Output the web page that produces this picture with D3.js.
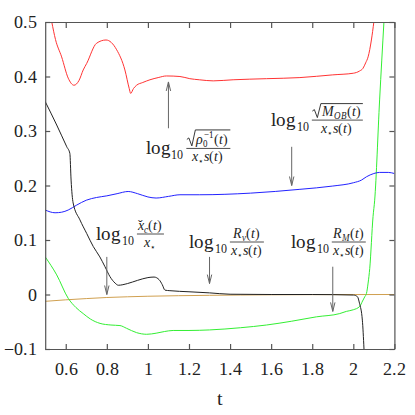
<!DOCTYPE html>
<html>
<head>
<meta charset="utf-8">
<script src="https://cdn.jsdelivr.net/npm/d3@7"></script>
<style>
  @font-face {
    font-family: "PlotSerif";
    src: local("Liberation Serif"), local("LiberationSerif"), local("LiberationSerif-Regular"),
         local("DejaVu Serif"), local("DejaVuSerif"), local("Times New Roman");
    font-style: normal;
  }
  @font-face {
    font-family: "PlotSerif";
    src: local("Liberation Serif Italic"), local("LiberationSerif-Italic"),
         local("DejaVu Serif Italic"), local("DejaVuSerif-Italic");
    font-style: italic;
  }
  body { margin: 0; background: #fff; }
  svg text { font-family: "PlotSerif", "Liberation Serif", "DejaVu Serif", serif; fill: #222; }
</style>
</head>
<body>
<svg id="chart" width="415" height="415"></svg>
<script>
// tick values
var xTicks = [0.6, 0.8, 1, 1.2, 1.4, 1.6, 1.8, 2, 2.2];
var yTicks = [-0.1, 0, 0.1, 0.2, 0.3, 0.4, 0.5];

// log10 sqrt(rho0^-1)/(x* s)  (red)
var redT = [0.532, 0.55, 0.58, 0.612, 0.64, 0.665, 0.685, 0.702, 0.75, 0.796, 0.848, 0.888, 0.909, 0.916, 0.93, 0.945, 0.975, 1.01, 1.05, 1.09, 1.156, 1.204, 1.25, 1.318, 1.415, 1.577, 1.74, 1.9, 2.0, 2.03, 2.047, 2.06, 2.072, 2.088, 2.1];
var redV = [0.5, 0.468, 0.436, 0.397, 0.384, 0.393, 0.412, 0.424, 0.461, 0.467, 0.449, 0.412, 0.378, 0.369, 0.378, 0.384, 0.389, 0.394, 0.398, 0.401, 0.400, 0.396, 0.394, 0.392, 0.394, 0.396, 0.398, 0.403, 0.406, 0.41, 0.415, 0.425, 0.436, 0.467, 0.5];

// log10 sqrt(M_OB)/(x* s)  (blue)
var blueT = [0.5, 0.548, 0.58, 0.612, 0.653, 0.7, 0.75, 0.8, 0.85, 0.904, 0.95, 1.0, 1.04, 1.1, 1.156, 1.25, 1.5, 1.74, 1.9, 2.0, 2.04, 2.064, 2.1, 2.128, 2.17, 2.2];
var blueV = [0.155, 0.150, 0.151, 0.155, 0.164, 0.173, 0.178, 0.181, 0.185, 0.189, 0.185, 0.179, 0.177, 0.180, 0.183, 0.183, 0.186, 0.193, 0.199, 0.205, 0.210, 0.216, 0.222, 0.224, 0.224, 0.222];

// log10 x_c/x*  (black)
var blackT = [0.5, 0.556, 0.605, 0.62, 0.626, 0.636, 0.669, 0.702, 0.734, 0.766, 0.791, 0.815, 0.84, 0.856, 0.9, 0.95, 1.0, 1.03, 1.055, 1.07, 1.083, 1.107, 1.2, 1.3, 1.4, 1.6, 1.8, 2.0, 2.02, 2.03, 2.044, 2.052];
var blackV = [0.354, 0.311, 0.271, 0.259, 0.21, 0.168, 0.137, 0.112, 0.088, 0.069, 0.051, 0.033, 0.021, 0.017, 0.02, 0.026, 0.031, 0.032, 0.027, 0.018, 0.008, 0.007, 0.005, 0.003, 0.0005, 0, 0, -0.001, -0.004, -0.016, -0.047, -0.1];

// log10 R_v/(x* s)  (orange)
var orangeT = [0.5, 0.6, 0.7, 0.8, 0.9, 1.0, 1.15, 1.3, 1.45, 1.6, 1.8, 2.0, 2.2];
var orangeV = [-0.0125, -0.0098, -0.0075, -0.0055, -0.0042, -0.0032, -0.0022, -0.0015, -0.001, -0.0006, -0.0003, -0.0001, 0];

// log10 R_M/(x* s)  (green)
var greenT = [0.5, 0.556, 0.612, 0.65, 0.685, 0.72, 0.767, 0.82, 0.864, 0.896, 0.945, 0.994, 1.04, 1.08, 1.123, 1.2, 1.3, 1.45, 1.577, 1.7, 1.82, 1.934, 1.966, 2.0, 2.031, 2.045, 2.056, 2.064, 2.072, 2.08, 2.096, 2.104, 2.128, 2.149];
var greenV = [0.069, 0.036, -0.007, -0.024, -0.035, -0.045, -0.053, -0.056, -0.057, -0.062, -0.070, -0.073, -0.071, -0.068, -0.066, -0.066, -0.065, -0.061, -0.056, -0.049, -0.041, -0.035, -0.031, -0.028, -0.022, -0.012, -0.004, 0.002, 0.021, 0.048, 0.143, 0.173, 0.357, 0.5];

// annotation arrows (t, from value, to value)
var arrowT    = [1.1, 1.7, 0.8, 1.3, 1.9];
var arrowFrom = [0.305, 0.271, 0.069, 0.069, 0.051];
var arrowTo   = [0.39, 0.2, 0.0, 0.02, -0.031];

// annotation anchors: start of "log", baseline
var labelT = [0.99, 1.601, 0.7495, 1.202, 1.698];
var labelV = [0.257, 0.309, 0.100, 0.0853, 0.0853];

(function () {
  var serif = "PlotSerif, 'Liberation Serif', 'DejaVu Serif', serif";
  var svg = d3.select("#chart").attr("font-family", serif);
  var margin = {top: 22, right: 20.6, bottom: 66, left: 45.2};
  var width = +svg.attr("width") - margin.left - margin.right;
  var height = +svg.attr("height") - margin.top - margin.bottom;

  var g = svg.append("g")
    .attr("transform", "translate(" + margin.left + "," + margin.top + ")");

  var x = d3.scaleLinear().domain([0.5, 2.2]).range([0, width]);
  var y = d3.scaleLinear().domain([-0.1, 0.5]).range([height, 0]);
  var fmt = d3.format("~g");

  svg.append("defs").append("clipPath").attr("id", "plot-clip")
    .append("rect").attr("width", width).attr("height", height);

  // curves
  var line = d3.line()
    .x(function (d) { return x(d[0]); })
    .y(function (d) { return y(d[1]); })
    .curve(d3.curveMonotoneX);

  var series = [
    {t: orangeT, v: orangeV, color: "#d0a050"},
    {t: greenT, v: greenV, color: "#33ee33"},
    {t: blueT, v: blueV, color: "#2222ff"},
    {t: redT, v: redV, color: "#ff3333"},
    {t: blackT, v: blackV, color: "#222"}
  ];

  var curves = g.append("g").attr("clip-path", "url(#plot-clip)");
  series.forEach(function (s) {
    curves.append("path")
      .datum(d3.zip(s.t, s.v))
      .attr("fill", "none")
      .attr("stroke", s.color)
      .attr("stroke-width", 1)
      .attr("d", line);
  });

  // axes, inward ticks on all four sides
  function styleAxis(sel) {
    sel.attr("font-family", serif);
    sel.selectAll("path, line").attr("stroke", "#555").attr("stroke-width", 1.2);
    sel.selectAll("text")
      .style("font-family", serif)
      .attr("font-size", 18)
      .attr("fill", "#222");
  }

  g.append("g")
    .attr("transform", "translate(0," + height + ")")
    .call(d3.axisBottom(x).tickValues(xTicks).tickFormat(fmt)
      .tickSizeInner(-5).tickSizeOuter(0).tickPadding(13))
    .call(styleAxis);

  g.append("g")
    .call(d3.axisLeft(y).tickValues(yTicks).tickFormat(fmt)
      .tickSizeInner(-5).tickSizeOuter(0).tickPadding(8))
    .call(styleAxis);

  g.append("g")
    .call(d3.axisTop(x).tickValues(xTicks).tickFormat("")
      .tickSizeInner(-6).tickSizeOuter(0))
    .call(styleAxis);

  g.append("g")
    .attr("transform", "translate(" + width + ",0)")
    .call(d3.axisRight(y).tickValues(yTicks).tickFormat("")
      .tickSizeInner(-5).tickSizeOuter(0))
    .call(styleAxis);

  g.append("text")
    .attr("x", width / 2)
    .attr("y", height + 56)
    .attr("text-anchor", "middle")
    .attr("font-size", 20)
    .text("t");

  // arrows
  arrowT.forEach(function (t, i) {
    var ax = x(t), y0 = y(arrowFrom[i]), y1 = y(arrowTo[i]);
    var dir = y1 > y0 ? 1 : -1;
    g.append("line")
      .attr("x1", ax).attr("x2", ax).attr("y1", y0).attr("y2", y1)
      .attr("stroke", "#666").attr("stroke-width", 1);
    g.append("path")
      .attr("d", "M" + (ax - 2.2) + "," + (y1 - dir * 9) + "L" + ax + "," + y1 + "L" + (ax + 2.2) + "," + (y1 - dir * 9))
      .attr("fill", "none").attr("stroke", "#666").attr("stroke-width", 1);
  });

  // math labels: log10 (num / den)
  var pT = [{t: "("}, {t: "t", i: 1}, {t: ")"}];
  var denS = [{t: "x", i: 1}, {t: "\u22C6", b: 3, fs: 9}, {t: "s", i: 1}].concat(pT);
  var labels = [
    {num: [{t: "\u03C1", i: 1}, {t: "0", b: 3, fs: 9}, {t: "\u22121", b: -6, fs: 9, dx: -4.5}, {t: "(", b: 0, dx: 0.5}, {t: "t", i: 1}, {t: ")"}], den: denS, sqrt: true},
    {num: [{t: "M", i: 1}, {t: "OB", i: 1, b: 3, fs: 9}].concat(pT), den: denS, sqrt: true},
    {num: [{t: "x", i: 1}, {t: "\u02C7", dx: -5.6}, {t: "c", i: 1, b: 3, fs: 9, dx: 0.6}].concat(pT),
     den: [{t: "x", i: 1}, {t: "\u22C6", b: 3, fs: 9}], sqrt: false},
    {num: [{t: "R", i: 1}, {t: "v", i: 1, b: 3, fs: 9}].concat(pT), den: denS, sqrt: false},
    {num: [{t: "R", i: 1}, {t: "M", i: 1, b: 3, fs: 9}].concat(pT), den: denS, sqrt: false}
  ];

  function addParts(text, parts) {
    var b = 0;
    parts.forEach(function (p) {
      var nb = p.b || 0;
      var ts = text.append("tspan").text(p.t).attr("dy", nb - b);
      if (p.fs) ts.attr("font-size", p.fs);
      if (p.i) ts.attr("font-style", "italic");
      if (p.dx) ts.attr("dx", p.dx);
      b = nb;
    });
  }

  labels.forEach(function (L, i) {
    var lg = g.append("g")
      .attr("transform", "translate(" + x(labelT[i]) + "," + y(labelV[i]) + ")");
    var log = lg.append("text").attr("font-size", 19).text("log");
    var lw = log.node().getBBox().width;
    var sub = lg.append("text").attr("x", lw + 0.5).attr("y", 4.5)
      .attr("font-size", 12).text("10");
    var fx = lw + 0.5 + sub.node().getBBox().width + 3;
    var barY = -6;
    var rad = L.sqrt ? 9 : 0;

    var num = lg.append("text").attr("font-size", 14).attr("y", barY - 4);
    addParts(num, L.num);
    var den = lg.append("text").attr("font-size", 14).attr("y", barY + 12.5);
    addParts(den, L.den);

    var nb = num.node().getBBox(), db = den.node().getBBox();
    var bw = Math.max(nb.width + rad, db.width) + 2;
    num.attr("x", fx + 1 + rad + (bw - 2 - rad - nb.width) / 2);
    den.attr("x", fx + (bw - db.width) / 2);

    lg.append("line")
      .attr("x1", fx).attr("x2", fx + bw).attr("y1", barY).attr("y2", barY)
      .attr("stroke", "#222").attr("stroke-width", 0.8);

    if (L.sqrt) {
      var top = num.node().getBBox().y - 0.5;
      lg.append("path")
        .attr("d", "M" + (fx + 0.5) + "," + (barY - 9) +
                   "L" + (fx + 2.5) + "," + (barY - 10.5) +
                   "L" + (fx + 5.5) + "," + (barY - 2.5) +
                   "L" + (fx + 9) + "," + top +
                   "L" + (fx + bw) + "," + top)
        .attr("fill", "none").attr("stroke", "#222").attr("stroke-width", 0.9);
    }
  });
}());
</script>
</body>
</html>
